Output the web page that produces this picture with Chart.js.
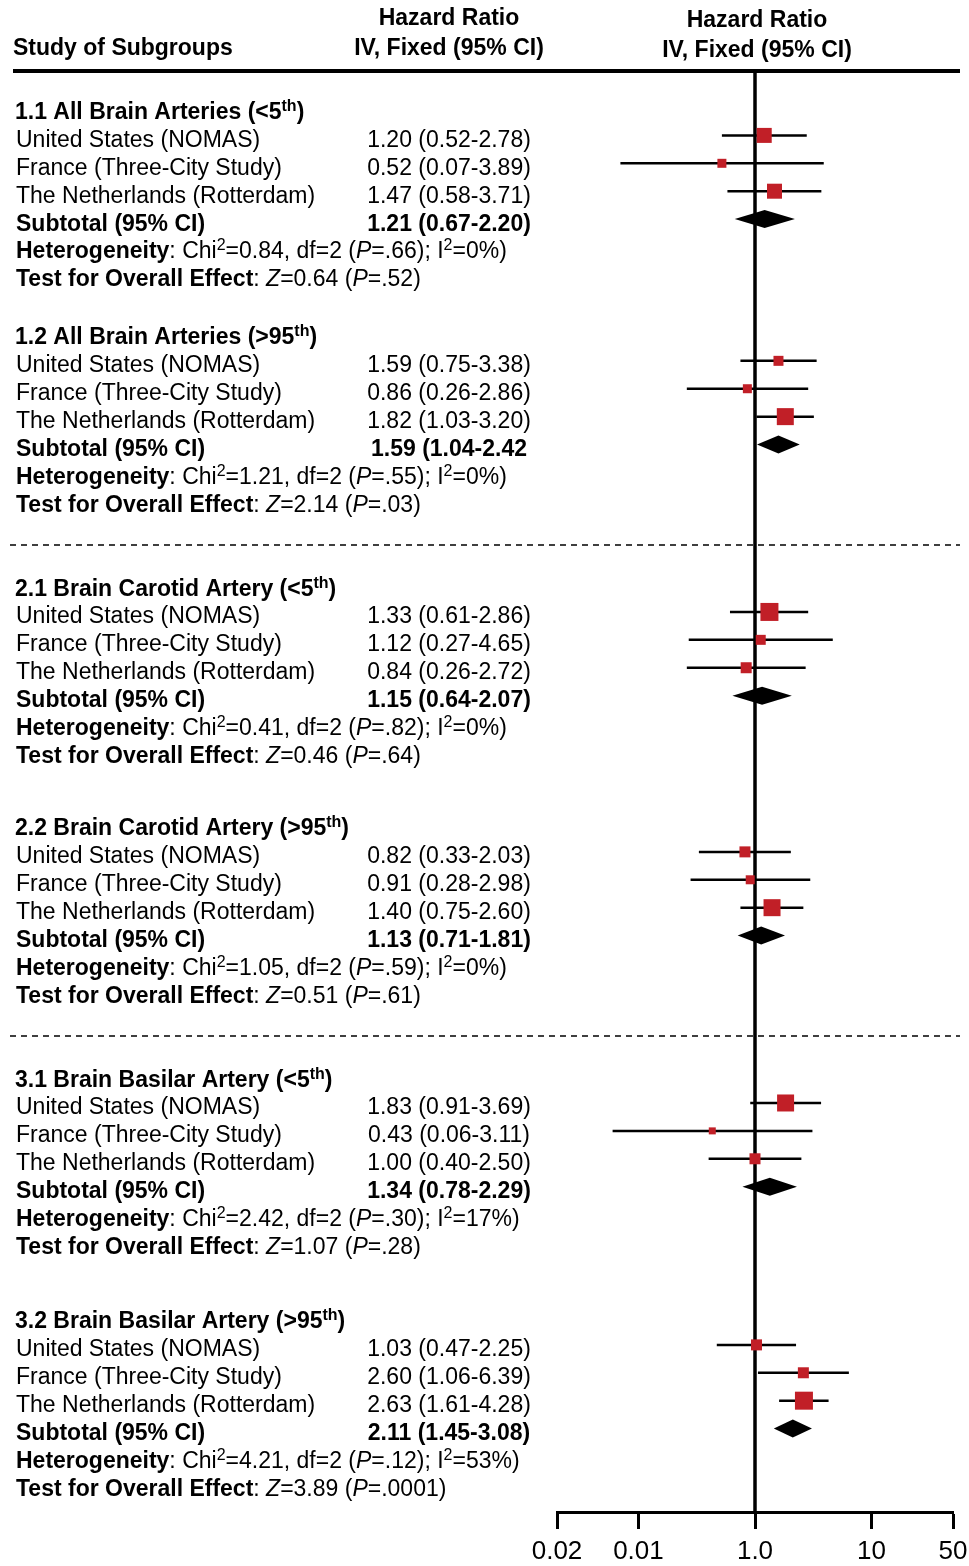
<!DOCTYPE html>
<html>
<head>
<meta charset="utf-8">
<title>Hazard ratio by subgroup</title>
<script src="https://cdn.jsdelivr.net/npm/chart.js@4.4.1/dist/chart.umd.min.js"></script>
<style>
  html, body { margin: 0; padding: 0; background: #fff; }
  #wrap { width: 969px; height: 1566px; }
</style>
</head>
<body>
<div id="wrap"><canvas id="forest" width="969" height="1566"></canvas></div>
<script>
(function(){
    "use strict";

    // ---- values ----
    var groupIds   = ['1.1', '1.2', '2.1', '2.2', '3.1', '3.2'];
    var groupNames = ['All Brain Arteries', 'All Brain Arteries', 'Brain Carotid Artery',
                      'Brain Carotid Artery', 'Brain Basilar Artery', 'Brain Basilar Artery'];
    var groupCuts  = ['<5', '>95', '<5', '>95', '<5', '>95'];
    var studies    = ['United States (NOMAS)', 'France (Three-City Study)', 'The Netherlands (Rotterdam)'];

    // hazard ratio and 95% CI per study (one inner list per subgroup)
    var hr = [[1.20, 0.52, 1.47], [1.59, 0.86, 1.82], [1.33, 1.12, 0.84],
              [0.82, 0.91, 1.40], [1.83, 0.43, 1.00], [1.03, 2.60, 2.63]];
    var lo = [[0.52, 0.07, 0.58], [0.75, 0.26, 1.03], [0.61, 0.27, 0.26],
              [0.33, 0.28, 0.75], [0.91, 0.06, 0.40], [0.47, 1.06, 1.61]];
    var hi = [[2.78, 3.89, 3.71], [3.38, 2.86, 3.20], [2.86, 4.65, 2.72],
              [2.03, 2.98, 2.60], [3.69, 3.11, 2.50], [2.25, 6.39, 4.28]];

    // pooled subtotal per subgroup
    var subHr = [1.21, 1.59, 1.15, 1.13, 1.34, 2.11];
    var subLo = [0.67, 1.04, 0.64, 0.71, 0.78, 1.45];
    var subHi = [2.20, 2.42, 2.07, 1.81, 2.29, 3.08];
    var subClose = [')', '', ')', ')', ')', ')']; // the 1.2 subtotal is printed without its ")"

    // heterogeneity + test for overall effect
    var chi2 = ['0.84', '1.21', '0.41', '1.05', '2.42', '4.21'];
    var df   = ['2', '2', '2', '2', '2', '2'];
    var pHet = ['.66', '.55', '.82', '.59', '.30', '.12'];
    var iSq  = ['0', '0', '0', '0', '17', '53'];
    var zVal = ['0.64', '2.14', '0.46', '0.51', '1.07', '3.89'];
    var pZ   = ['.52', '.03', '.64', '.61', '.28', '.0001'];

    // x axis: where the ticks sit and what is printed under them
    var tickValues = [0.02, 0.1, 1, 10, 50];
    var tickLabels = ['0.02', '0.01', '1.0', '10', '50'];

    // ---- layout / style ----
    var groupRow   = [0, 8.08, 17.08, 25.68, 34.68, 43.35]; // row of each subgroup title
    var dividerRow = [15.68, 33.28];
    var boxSide    = [[15, 9, 15], [10, 9, 17], [18, 10, 11], [11, 9, 17], [17, 7, 11], [11, 11, 18]];
    var RED = '#c11f27';
    var FAMILY = '"Liberation Sans", Arial, Helvetica, sans-serif';
    var TEXT_SIZE = 23, SUP_SIZE = 16, SUP_RISE = 8;
    var TEXT_DY = 11.5;   // baseline below the marker row
    var VALUE_X = 449;

    function fmt(a, b, c) {
        return a.toFixed(2) + ' (' + b.toFixed(2) + '-' + c.toFixed(2);
    }

    // points for the study squares
    var points = [], radii = [];
    groupIds.forEach(function(g, gi) {
        studies.forEach(function(s, si) {
            points.push({ x: hr[gi][si], y: groupRow[gi] + 1 + si });
            radii.push(boxSide[gi][si] / Math.SQRT2); // rect side = r * sqrt2
        });
    });

    function fontOf(seg) {
        return (seg.i ? 'italic ' : '') + (seg.b ? 'bold ' : '') +
            (seg.sup ? SUP_SIZE : TEXT_SIZE) + 'px ' + FAMILY;
    }

    function drawRich(ctx, segs, x, base, align) {
        var total = 0;
        segs.forEach(function(s) {
            ctx.font = fontOf(s);
            s.w = ctx.measureText(s.t).width;
            total += s.w;
        });
        var cx = align === 'center' ? x - total / 2 : x;
        segs.forEach(function(s) {
            ctx.font = fontOf(s);
            ctx.fillText(s.t, cx, s.sup ? base - SUP_RISE : base);
            cx += s.w;
        });
    }

    function seg(t, b, i, sup) { return { t: t, b: b, i: i, sup: sup }; }

    function line(ctx, x0, y0, x1, y1) {
        ctx.beginPath();
        ctx.moveTo(x0, y0);
        ctx.lineTo(x1, y1);
        ctx.stroke();
    }

    var forestPlugin = {
        id: 'forest',
        beforeDatasetsDraw: function(chart) {
            var ctx = chart.ctx, xs = chart.scales.x, ys = chart.scales.y, area = chart.chartArea;
            ctx.save();
            ctx.strokeStyle = '#000';

            // header rule
            ctx.lineWidth = 4;
            line(ctx, 13, area.top + 1, 960, area.top + 1);

            // dashed section dividers
            ctx.lineWidth = 1.5;
            ctx.setLineDash([6, 5]);
            dividerRow.forEach(function(r) {
                var py = ys.getPixelForValue(r);
                line(ctx, 10, py, 960, py);
            });
            ctx.setLineDash([]);

            // confidence interval whiskers
            ctx.lineWidth = 2.5;
            groupIds.forEach(function(g, gi) {
                studies.forEach(function(s, si) {
                    var py = ys.getPixelForValue(groupRow[gi] + 1 + si);
                    line(ctx, xs.getPixelForValue(lo[gi][si]), py, xs.getPixelForValue(hi[gi][si]), py);
                });
            });

            // line of no effect
            ctx.lineWidth = 3.5;
            var x1 = xs.getPixelForValue(1);
            line(ctx, x1, area.top, x1, area.bottom);

            // subtotal diamonds
            ctx.fillStyle = '#000';
            groupIds.forEach(function(g, gi) {
                var py = ys.getPixelForValue(groupRow[gi] + 4);
                var pc = xs.getPixelForValue(subHr[gi]);
                ctx.beginPath();
                ctx.moveTo(xs.getPixelForValue(subLo[gi]), py);
                ctx.lineTo(pc, py - 9);
                ctx.lineTo(xs.getPixelForValue(subHi[gi]), py);
                ctx.lineTo(pc, py + 9);
                ctx.closePath();
                ctx.fill();
            });
            ctx.restore();
        },
        afterDraw: function(chart) {
            var ctx = chart.ctx, ys = chart.scales.y;
            ctx.save();
            ctx.fillStyle = '#000';
            ctx.textAlign = 'left';
            ctx.textBaseline = 'alphabetic';

            // column headers
            drawRich(ctx, [seg('Study of Subgroups', 1)], 13, 55, 'left');
            drawRich(ctx, [seg('Hazard Ratio', 1)], VALUE_X, 25, 'center');
            drawRich(ctx, [seg('IV, Fixed (95% CI)', 1)], VALUE_X, 55, 'center');
            drawRich(ctx, [seg('Hazard Ratio', 1)], 757, 27, 'center');
            drawRich(ctx, [seg('IV, Fixed (95% CI)', 1)], 757, 57, 'center');

            groupIds.forEach(function(g, gi) {
                var r0 = groupRow[gi];
                function base(k) { return ys.getPixelForValue(r0 + k) + TEXT_DY; }

                drawRich(ctx, [seg(g + ' ' + groupNames[gi] + ' (' + groupCuts[gi], 1),
                               seg('th', 1, 0, 1), seg(')', 1)], 15, base(0), 'left');

                studies.forEach(function(s, si) {
                    drawRich(ctx, [seg(s)], 16, base(1 + si), 'left');
                    drawRich(ctx, [seg(fmt(hr[gi][si], lo[gi][si], hi[gi][si]) + ')')], VALUE_X, base(1 + si), 'center');
                });

                drawRich(ctx, [seg('Subtotal (95% CI)', 1)], 16, base(4), 'left');
                drawRich(ctx, [seg(fmt(subHr[gi], subLo[gi], subHi[gi]) + subClose[gi], 1)], VALUE_X, base(4), 'center');

                drawRich(ctx, [seg('Heterogeneity', 1), seg(': Chi'), seg('2', 0, 0, 1),
                               seg('=' + chi2[gi] + ', df=' + df[gi] + ' ('), seg('P', 0, 1),
                               seg('=' + pHet[gi] + '); I'), seg('2', 0, 0, 1), seg('=' + iSq[gi] + '%)')],
                         16, base(5), 'left');

                drawRich(ctx, [seg('Test for Overall Effect', 1), seg(': '), seg('Z', 0, 1),
                               seg('=' + zVal[gi] + ' ('), seg('P', 0, 1), seg('=' + pZ[gi] + ')')],
                         16, base(6), 'left');
            });
            ctx.restore();
        }
    };

    var ctx = document.getElementById('forest').getContext('2d');
    new Chart(ctx, {
        type: 'scatter',
        data: {
            datasets: [{
                data: points,
                pointStyle: 'rect',
                pointRadius: radii,
                backgroundColor: RED,
                borderWidth: 0
            }]
        },
        options: {
            responsive: false,
            animation: false,
            events: [],
            layout: { padding: { left: 557, right: 16, top: 70, bottom: 0 } },
            plugins: {
                legend: { display: false },
                tooltip: { enabled: false }
            },
            scales: {
                x: {
                    type: 'logarithmic',
                    min: 0.02,
                    max: 50,
                    afterBuildTicks: function(scale) {
                        scale.ticks = tickValues.map(function(v) { return { value: v }; });
                    },
                    afterFit: function(scale) {
                        scale.height = 54;
                        // the end labels fit inside the page margins already
                        scale.paddingLeft = 0;
                        scale.paddingRight = 0;
                    },
                    ticks: {
                        autoSkip: false,
                        maxRotation: 0,
                        padding: 7,
                        color: '#000',
                        font: { size: 26, family: FAMILY },
                        callback: function(v, i) { return tickLabels[i]; }
                    },
                    grid: {
                        drawOnChartArea: false,
                        drawTicks: true,
                        tickLength: 17,
                        tickWidth: 3,
                        tickColor: '#000'
                    },
                    border: { display: true, color: '#000', width: 3 }
                },
                y: {
                    type: 'linear',
                    reverse: true,
                    min: -1.344,
                    max: 50.34,
                    display: false
                }
            }
        },
        plugins: [forestPlugin]
    });
})();
</script>
</body>
</html>
